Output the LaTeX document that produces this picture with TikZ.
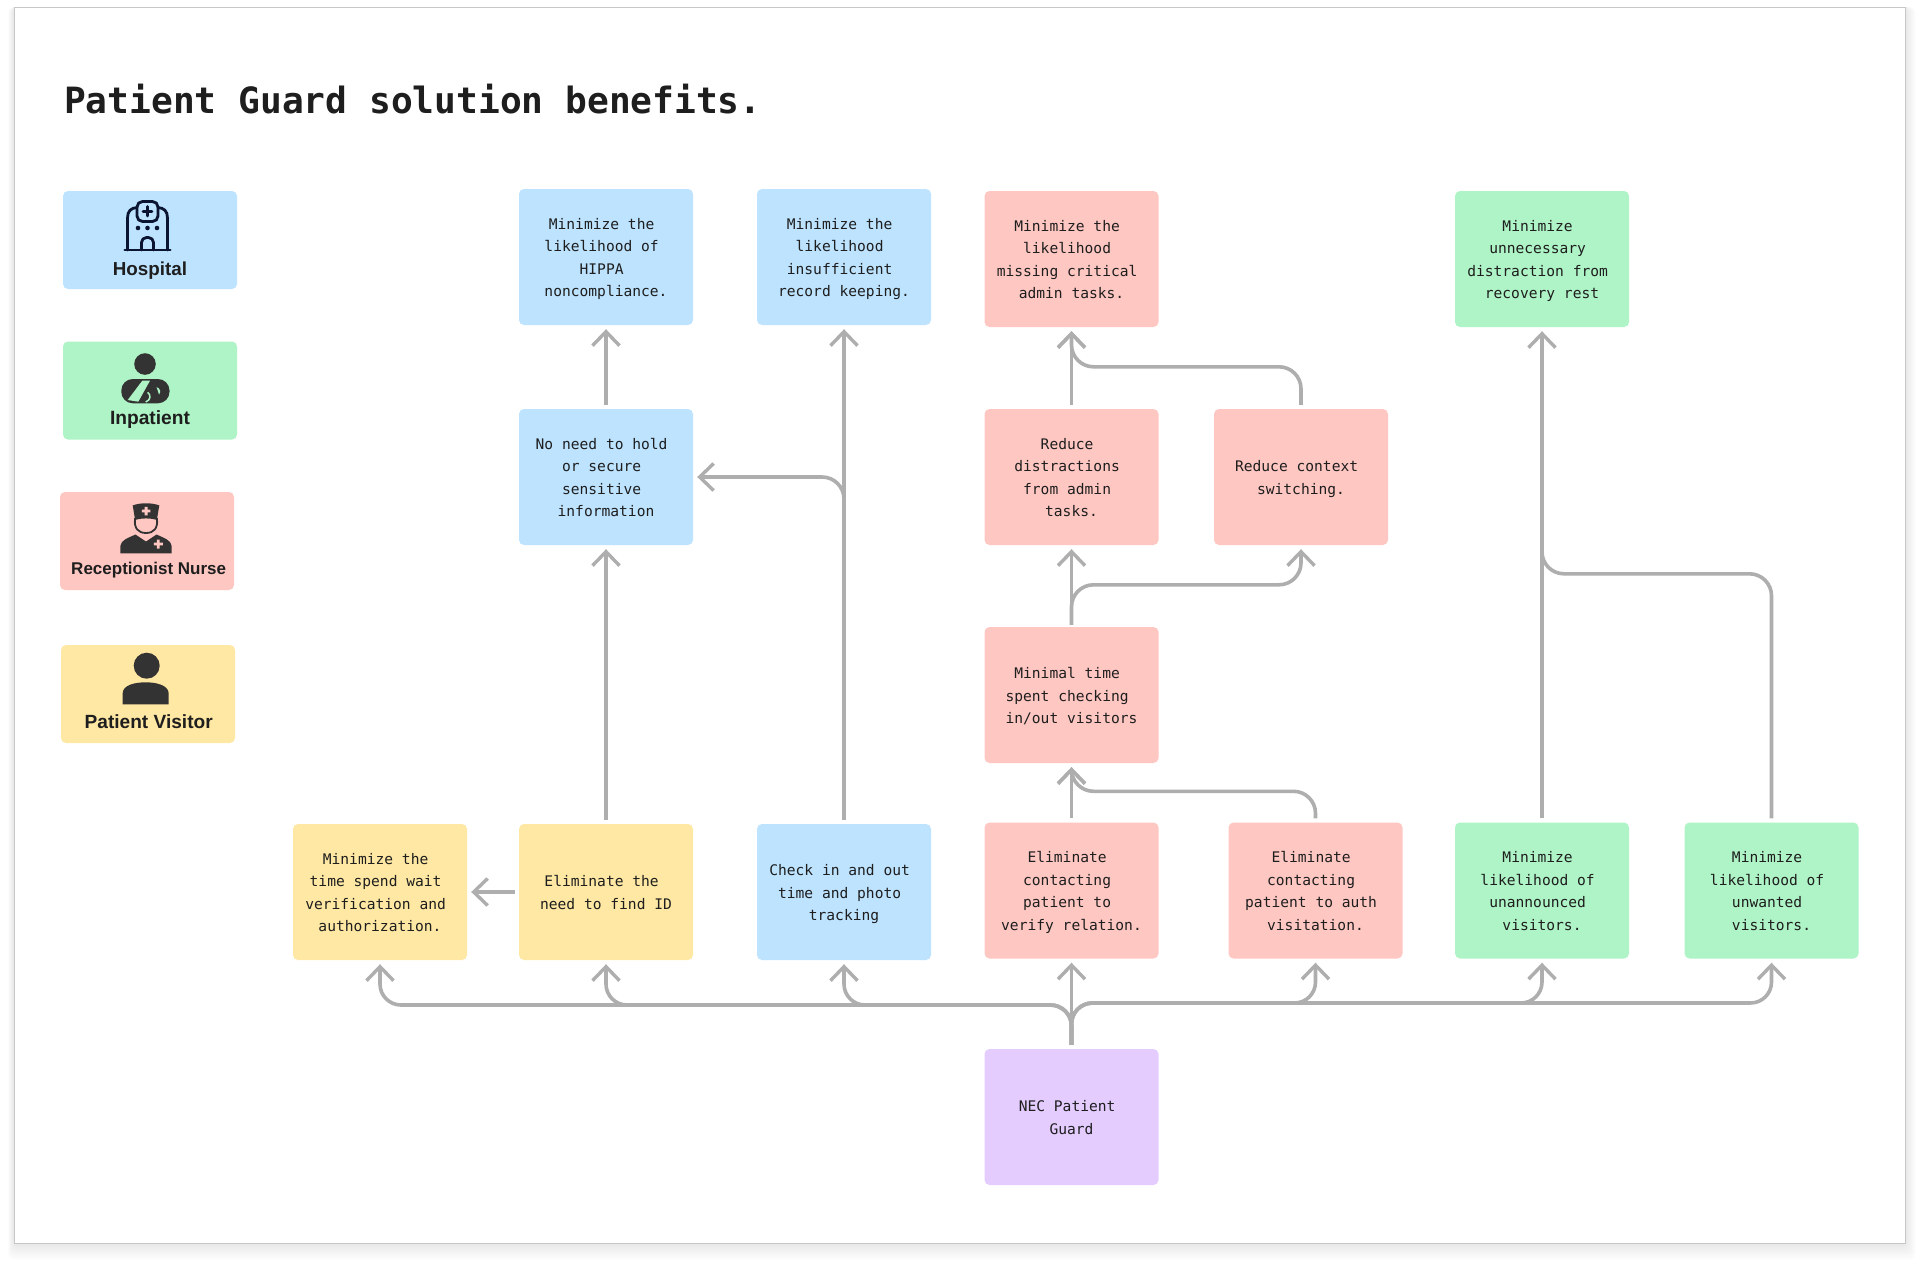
\documentclass[tikz,border=0pt]{standalone}
\usepackage{fontspec}
\usetikzlibrary{arrows.meta,calc}
\newfontfamily\monofam{DejaVu Sans Mono}
\newfontfamily\labfam{Liberation Sans}
\newcommand\tsp{\phantom{x}}
\definecolor{bluebox}{HTML}{BDE3FF}
\definecolor{greenbox}{HTML}{AFF4C6}
\definecolor{redbox}{HTML}{FFC7C2}
\definecolor{yellowbox}{HTML}{FFE8A3}
\definecolor{purplebox}{HTML}{E4CCFF}
\definecolor{linegrey}{HTML}{AEAEAE}
\definecolor{ink}{HTML}{1E1E1E}
\definecolor{icondark}{HTML}{333333}
\definecolor{iconnavy}{HTML}{0B1430}
\tikzset{
  card/.style={rectangle,rounded corners=5pt,minimum width=174pt,minimum height=136pt,inner sep=0pt},
  cardtext/.style={inner sep=0pt,align=center,text=ink,yshift=-3.6pt,
    font=\monofam\fontsize{14.6}{22.6}\selectfont,
    execute at end node={\rule[-6.2pt]{0pt}{6.2pt}}},
  legendbox/.style={rectangle,rounded corners=5pt,minimum width=174pt,minimum height=98pt,inner sep=0pt},
  legendlabel/.style={text=ink,inner sep=0pt},
  conn/.style={draw=linegrey,line width=3.6pt,-{Straight Barb[length=14pt,width=27pt,line width=3.4pt]}},
  plainline/.style={draw=linegrey,line width=3.6pt},
}
\newcommand\cardnode[4]{\node[card,fill=#2] (#1) at (#3) {}; \node[cardtext] (#1t) at (#1) {#4};}
\begin{document}
\begin{tikzpicture}[x=1pt,y=-1pt]
\useasboundingbox (0,0) rectangle (1920,1266);
\fill[white] (0,0) rectangle (1920,1266);
% sheet shadow
\foreach \i in {1,...,12}{
  \fill[black,opacity=.007,rounded corners=6pt] ({14-\i*.5},{7}) rectangle ({1905+\i*.9},{1243+\i*1.4});
}
\filldraw[fill=white,draw=black!22,line width=1pt] (14,7) rectangle (1905,1243);
% title
\node[anchor=base west,inner sep=0pt,text=ink,font=\monofam\bfseries\fontsize{36.2}{40}\selectfont] (title) at (64,113) {Patient Guard solution benefits.};
% legend boxes
\node[legendbox,fill=bluebox] (lhosp) at (150,240) {};
\node[legendbox,fill=greenbox] (linp) at (150,390.5) {};
\node[legendbox,fill=redbox] (lnurse) at (147,541) {};
\node[legendbox,fill=yellowbox] (lvis) at (148,694) {};
\node[legendlabel,font=\labfam\bfseries\fontsize{18.8}{20}\selectfont] (thosp) at (150,271) {Hospital};
\node[legendlabel,font=\labfam\bfseries\fontsize{19.2}{20}\selectfont] (tinp) at (150,419.5) {Inpatient};
\node[legendlabel,font=\labfam\bfseries\fontsize{17}{20}\selectfont] (tnurse) at (148.7,570) {Receptionist Nurse};
\node[legendlabel,font=\labfam\bfseries\fontsize{19.1}{20}\selectfont] (tvis) at (148.7,722) {Patient Visitor};
% hospital icon
\begin{scope}[draw=iconnavy,line width=2.8pt,line cap=round,line join=round]
  \draw (124.8,250) -- (170.2,250);
  \draw (127.5,250) -- (127.5,218) .. controls (127.5,211) and (131,208) .. (137,207.5);
  \draw (167.5,250) -- (167.5,218) .. controls (167.5,211) and (164,208) .. (158,207.5);
  \draw[rounded corners=5.5pt] (137,201.5) rectangle (158,221.5);
  \draw[line width=2.6pt] (147.5,206.5) -- (147.5,216) (143,211.2) -- (152,211.2);
  \draw[rounded corners=5pt] (141.5,250) -- (141.5,237.5) -- (153.5,237.5) -- (153.5,250);
  \fill[iconnavy,draw=none] (138,228) circle (2.3) (147.5,228) circle (2.3) (157,228) circle (2.3);
\end{scope}
% inpatient icon
\fill[icondark] (145,364) circle (10.8);
\fill[icondark,rounded corners=11.5pt] (121.3,379) rectangle (169.5,403.3);
\fill[greenbox] (142.3,380.7) -- (150,380.7) -- (138.3,401.7) -- (127.7,400) -- cycle;
\fill[greenbox] (156.5,387) .. controls (160.5,388.5) and (161,392) .. (159,394.5) -- cycle;
\draw[greenbox,line width=1.5pt] (147.7,392.3) .. controls (151,395) and (151,400) .. (145.7,402);
% nurse icon
\fill[icondark] (132.7,505.5) .. controls (140,502.5) and (152,502.5) .. (159.3,505.5) -- (157,519) -- (135,519) -- cycle;
\draw[icondark,line width=1.8pt,fill=redbox] (135,519) .. controls (134,528) and (138,533) .. (146,533) .. controls (154,533) and (158,528) .. (157,519) .. controls (150,517) and (142,517) .. (135,519) -- cycle;
\fill[redbox] (144.7,506.8) rectangle (147.5,515.3) (141.8,509.6) rectangle (150.4,512.4);
\fill[icondark] (120.3,553.3) -- (120.3,546) .. controls (121,540) and (128,538) .. (135.5,534.5) -- (146,541.5) -- (156.5,534.5) .. controls (164,538) and (171,540) .. (171.7,546) -- (171.7,553.3) -- cycle;
\fill[redbox] (156.9,539.5) rectangle (159.7,548.5) (153.8,542.6) rectangle (162.8,545.4);
% visitor icon
\fill[icondark] (146.7,665.7) circle (13);
\fill[icondark] (122.7,704.3) -- (122.7,693) .. controls (123,685) and (135,682.3) .. (145.7,682.3) .. controls (156,682.3) and (168,685) .. (168.7,693) -- (168.7,704.3) -- cycle;
% cards
\cardnode{b1}{bluebox}{606,257}{Minimize the\tsp\\likelihood of\tsp\\HIPPA\tsp\\noncompliance.}
\cardnode{b2}{bluebox}{844,257}{Minimize the\tsp\\likelihood\tsp\\insufficient\tsp\\record keeping.}
\cardnode{r1}{redbox}{1071.5,259}{Minimize the\tsp\\likelihood\tsp\\missing critical\tsp\\admin tasks.}
\cardnode{g1}{greenbox}{1542,259}{Minimize\tsp\\unnecessary\tsp\\distraction from\tsp\\recovery rest}
\cardnode{noneed}{bluebox}{606,477}{No need to hold\tsp\\or secure\tsp\\sensitive\tsp\\information}
\cardnode{rdist}{redbox}{1071.5,477}{Reduce\tsp\\distractions\tsp\\from admin\tsp\\tasks.}
\cardnode{rctx}{redbox}{1301,477}{Reduce context\tsp\\switching.}
\cardnode{mint}{redbox}{1071.5,695}{Minimal time\tsp\\spent checking\tsp\\in/out visitors}
\cardnode{wait}{yellowbox}{380,892}{Minimize the\tsp\\time spend wait\tsp\\verification and\tsp\\authorization.}
\cardnode{findid}{yellowbox}{606,892}{Eliminate the\tsp\\need to find ID}
\cardnode{check}{bluebox}{844,892}{Check in and out\tsp\\time and photo\tsp\\tracking}
\cardnode{verify}{redbox}{1071.5,890.5}{Eliminate\tsp\\contacting\tsp\\patient to\tsp\\verify relation.}
\cardnode{auth}{redbox}{1315.5,890.5}{Eliminate\tsp\\contacting\tsp\\patient to auth\tsp\\visitation.}
\cardnode{g2}{greenbox}{1542,890.5}{Minimize\tsp\\likelihood of\tsp\\unannounced\tsp\\visitors.}
\cardnode{g3}{greenbox}{1771.5,890.5}{Minimize\tsp\\likelihood of\tsp\\unwanted\tsp\\visitors.}
\cardnode{nec}{purplebox}{1071.5,1117}{NEC Patient\tsp\\Guard}
% straight connectors
\draw[conn] ([yshift=4pt]findid.north) -- ([yshift=-4pt]noneed.south);
\draw[conn] ([yshift=4pt]noneed.north) -- ([yshift=-4pt]b1.south);
\draw[conn] ([yshift=4pt]check.north) -- ([yshift=-4pt]b2.south);
\draw[conn] ([xshift=-4pt]findid.west) -- ([xshift=4pt]wait.east);
\draw[conn] ([yshift=4pt]rdist.north) -- ([yshift=-4pt]r1.south);
\draw[conn] ([yshift=4pt]mint.north) -- ([yshift=-4pt]rdist.south);
\draw[conn] ([yshift=4pt]verify.north) -- ([yshift=-4pt]mint.south);
\draw[conn] ([yshift=4pt]g2.north) -- ([yshift=-4pt]g1.south);
\draw[conn] ([yshift=4pt]nec.north) -- ([yshift=-4pt]verify.south);
% branched connectors
\coordinate (checktrunk) at ($(check.north)+(0,-310)$);
\draw[conn,rounded corners=22pt] (checktrunk) |- ([xshift=4pt]noneed.east);
\coordinate (ctxbend) at ($(rctx.north)+(0,-42)$);
\draw[conn,rounded corners=22pt] ([yshift=4pt]rctx.north) -- (ctxbend) -| ([yshift=-4pt]r1.south);
\coordinate (mintbend) at ($(mint.north)+(0,-42)$);
\draw[conn,rounded corners=22pt] ([yshift=2pt]mint.north) -- (mintbend) -| ([yshift=-4pt]rctx.south);
\coordinate (authbend) at ($(auth.north)+(0,-31)$);
\draw[conn,rounded corners=22pt] ([yshift=4pt]auth.north) -- (authbend) -| ([yshift=-4pt]mint.south);
\coordinate (g3bend) at ($(g3.north)+(0,-248.5)$);
\draw[plainline,rounded corners=22pt] ([yshift=4pt]g3.north) -- (g3bend) -- (g3bend -| g2.north) -- ($(g2.north)+(0,-290)$);
% NEC fan-out
\coordinate (necright) at (1071.5,1003);
\coordinate (necleft) at (1071.5,1005);
\coordinate (necbase) at ([yshift=4pt]nec.north);
\draw[conn,rounded corners=21pt] (necbase) -- (necright) -| ([yshift=-4pt]g3.south);
\draw[conn,rounded corners=21pt] (necbase) -- (necright) -| ([yshift=-4pt]g2.south);
\draw[conn,rounded corners=21pt] (necbase) -- (necright) -| ([yshift=-4pt]auth.south);
\draw[conn,rounded corners=21pt] (necbase) -- (necleft) -| ([yshift=-4pt]check.south);
\draw[conn,rounded corners=21pt] (necbase) -- (necleft) -| ([yshift=-4pt]findid.south);
\draw[conn,rounded corners=21pt] (necbase) -- (necleft) -| ([yshift=-4pt]wait.south);
\end{tikzpicture}
\end{document}
